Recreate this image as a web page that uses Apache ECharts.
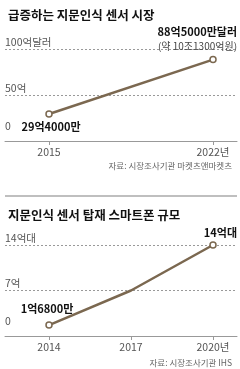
<!DOCTYPE html>
<html>
<head>
<meta charset="utf-8">
<script src="https://cdn.jsdelivr.net/npm/echarts@6/dist/echarts.min.js"></script>
<style>
  html, body { margin: 0; padding: 0; background: #fff; }
  #chart { width: 240px; height: 369px; }
</style>
</head>
<body>
<div id="chart"></div>
<script>
// 데이터
const years1 = [2015, 2022];
const market = [29.4, 88.5];            // 억달러
const marketLabels = ['29억4000만', '88억5000만달러'];
const yTicks1 = { 0: '0', 50: '50억', 100: '100억달러' };

const years2 = [2014, 2017, 2020];
const phones = [1.68, 7.0, 14];         // 억대
const phoneLabels = ['1억6800만', '', '14억대'];
const yTicks2 = { 0: '0', 7: '7억', 14: '14억대' };

const font = '"Noto Sans CJK KR", "Noto Sans", sans-serif';
const lineColor = '#7b6850';

const myChart = echarts.init(document.getElementById('chart'));

const yAxisOf = (gridIndex, max, interval, ticks) => ({
  type: 'value',
  gridIndex,
  min: 0,
  max,
  interval,
  axisLine: { show: false },
  axisTick: { show: false },
  axisLabel: {
    inside: true,
    margin: 0,
    verticalAlign: 'bottom',
    color: '#555',
    fontFamily: font,
    fontSize: 10.5,
    padding: [0, 0, 2, 0],
    formatter: v => v === 0 ? '{z|0}' : ticks[v],
    rich: { z: { fontFamily: font, fontSize: 10.5, color: '#555', padding: [0, 0, 8, 0] } }
  },
  splitLine: {
    show: true,
    lineStyle: { color: '#999', type: [2, 2], width: 1 }
  }
});

const xAxisOf = (gridIndex, min, max, years) => ({
  type: 'value',
  gridIndex,
  min,
  max,
  axisLine: { show: true, lineStyle: { color: '#999', width: 1 } },
  axisTick: { show: true, customValues: years, length: 4, lineStyle: { color: '#999' } },
  axisLabel: {
    customValues: years,
    margin: 6,
    color: '#555',
    fontFamily: font,
    fontSize: 10.5,
    formatter: v => v === years[years.length - 1] ? v + '년' : String(v)
  },
  splitLine: { show: false }
});

const options = {
  animation: false,
  textStyle: { fontFamily: font },
  title: [
    { text: '급증하는 지문인식 센서 시장', left: 3, top: 4,
      textStyle: { fontFamily: font, fontSize: 12.5, fontWeight: 'bold', color: '#111' } },
    { text: '자료: 시장조사기관 마켓츠앤마켓츠', right: 3, top: 157,
      textStyle: { fontFamily: font, fontSize: 8.5, fontWeight: 'normal', color: '#666' } },
    { text: '지문인식 센서 탑재 스마트폰 규모', left: 3, top: 204,
      textStyle: { fontFamily: font, fontSize: 12.5, fontWeight: 'bold', color: '#111' } },
    { text: '자료: 시장조사기관 IHS', right: 3, top: 354,
      textStyle: { fontFamily: font, fontSize: 8.5, fontWeight: 'normal', color: '#666' } }
  ],
  graphic: [
    { type: 'line', shape: { x1: 5, y1: 196, x2: 237, y2: 196 },
      style: { stroke: '#aaa', lineWidth: 1.5 } }
  ],
  grid: [
    { left: 5, right: 3, top: 49, bottom: 228, containLabel: false },
    { left: 5, right: 3, top: 245, bottom: 33, containLabel: false }
  ],
  xAxis: [
    xAxisOf(0, 2013.122, 2023.024, years1),
    xAxisOf(1, 2012.39, 2020.878, years2)
  ],
  yAxis: [
    yAxisOf(0, 100, 50, yTicks1),
    yAxisOf(1, 14, 7, yTicks2)
  ],
  series: [
    {
      type: 'line',
      xAxisIndex: 0,
      yAxisIndex: 0,
      symbol: 'circle',
      symbolSize: 6,
      lineStyle: { color: lineColor, width: 2.5 },
      itemStyle: { color: '#fff', borderColor: lineColor, borderWidth: 1.5 },
      data: [
        {
          value: [years1[0], market[0]],
          label: {
            show: true, position: 'bottom', distance: 4, offset: [2, 0],
            formatter: marketLabels[0],
            fontFamily: font, fontSize: 11, fontWeight: 'bold', color: '#111'
          }
        },
        {
          value: [years1[1], market[1]],
          label: {
            show: true, position: 'top', distance: 3, align: 'right', offset: [24, 0],
            formatter: '{a|' + marketLabels[1] + '}\n{b|(약 10조1300억원)}',
            rich: {
              a: { fontFamily: font, fontSize: 11, fontWeight: 'bold', color: '#111', align: 'right', lineHeight: 15 },
              b: { fontFamily: font, fontSize: 10, color: '#444', align: 'right', lineHeight: 14 }
            }
          }
        }
      ]
    },
    {
      type: 'line',
      xAxisIndex: 1,
      yAxisIndex: 1,
      symbol: 'circle',
      symbolSize: 6,
      lineStyle: { color: lineColor, width: 2.5 },
      itemStyle: { color: '#fff', borderColor: lineColor, borderWidth: 1.5 },
      data: years2.map((y, i) => ({
        value: [y, phones[i]],
        symbol: i === 1 ? 'none' : 'circle',
        label: {
          show: phoneLabels[i] !== '',
          position: 'top',
          distance: i === 0 ? 7 : 3,
          align: i === 2 ? 'right' : 'center',
          offset: i === 2 ? [24, 0] : [-2, 0],
          formatter: phoneLabels[i],
          fontFamily: font, fontSize: 11, fontWeight: 'bold', color: '#111'
        }
      }))
    }
  ]
};
myChart.setOption(options);
</script>
</body>
</html>
